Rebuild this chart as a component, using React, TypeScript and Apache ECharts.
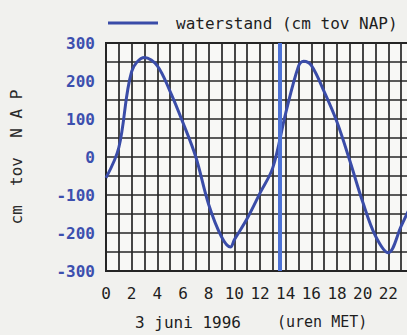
import React, { useEffect, useRef } from "react";
import * as echarts from "echarts";

const hours = [0, 1, 2, 3, 4, 5, 6, 7, 8, 9, 9.7, 10, 11, 12, 13, 14, 15, 15.4, 16, 17, 18, 19, 20, 21, 22, 23, 24];
const waterstand = [-55, 25, 225, 262, 240, 172, 90, 0, -125, -210, -237, -218, -162, -95, -28, 115, 239, 252, 241, 172, 92, -10, -118, -208, -252, -182, -110];
const nowHour = 13.55;
const seriesName = "waterstand (cm tov NAP)";
const yAxisName = "cm  tov  N A P";
const dateLabel = "3 juni 1996";
const unitLabel = "(uren MET)";

const MONO = "'DejaVu Sans Mono', monospace";

export default function App() {
  const ref = useRef<HTMLDivElement>(null);
  useEffect(() => {
    if (!ref.current) return;
    const chart = echarts.init(ref.current, null, { renderer: "svg" });
    chart.setOption({
      animation: false,
      backgroundColor: "#f1f1ee",
      legend: {
        show: true,
        left: 103,
        top: 10,
        icon: "rect",
        itemWidth: 50,
        itemHeight: 3,
        data: [seriesName],
        textStyle: { fontFamily: MONO, fontSize: 16, color: "#1e1e1e", padding: [0, 0, 0, 13] },
      },
      grid: {
        left: 101,
        top: 43,
        right: 16,
        bottom: 64,
        show: true,
        backgroundColor: "#f8f8f6",
        borderColor: "#222",
        borderWidth: 2,
      },
      xAxis: {
        type: "value",
        min: 0,
        max: 24,
        interval: 1,
        axisLine: { show: false },
        axisTick: { show: false },
        splitLine: { show: true, lineStyle: { color: "#262626", width: 1.7 } },
        axisLabel: {
          margin: 14,
          fontFamily: MONO,
          fontSize: 16,
          color: "#1e1e1e",
          formatter: (v: number) => (v % 2 === 0 && v < 24 ? String(v) : ""),
        },
      },
      yAxis: {
        type: "value",
        min: -300,
        max: 300,
        interval: 50,
        name: yAxisName,
        nameLocation: "middle",
        nameRotate: 90,
        nameGap: 82,
        nameTextStyle: { fontFamily: MONO, fontSize: 16, color: "#2a2a2a" },
        axisLine: { show: false },
        axisTick: { show: false },
        splitLine: { show: true, lineStyle: { color: "#262626", width: 1.7 } },
        axisLabel: {
          margin: 11,
          fontFamily: MONO,
          fontSize: 16,
          fontWeight: "bold",
          color: "#3c4fae",
          formatter: (v: number) => (v % 100 === 0 ? String(v) : ""),
        },
      },
      graphic: [
        {
          type: "text",
          left: 135,
          top: 314,
          style: { text: dateLabel, font: `16px ${MONO}`, fill: "#1e1e1e" },
        },
        {
          type: "text",
          left: 277,
          top: 314,
          style: { text: unitLabel, font: `15px ${MONO}`, fill: "#1e1e1e" },
        },
      ],
      series: [
        {
          name: seriesName,
          type: "line",
          data: hours.map((h, i) => [h, waterstand[i]]),
          smooth: 0.35,
          showSymbol: false,
          lineStyle: { color: "#3a4ca8", width: 3 },
          itemStyle: { color: "#3a4ca8" },
          markLine: {
            silent: true,
            symbol: ["none", "none"],
            label: { show: false },
            lineStyle: { color: "#4d72d6", width: 4, type: "solid" },
            data: [{ xAxis: nowHour }],
          },
        },
      ],
    });
    return () => chart.dispose();
  }, []);
  return (
    <div style={{ position: "fixed", left: 0, top: 0, width: 407, height: 335, overflow: "hidden" }}>
      <div ref={ref} style={{ width: 430, height: 335 }} />
    </div>
  );
}
